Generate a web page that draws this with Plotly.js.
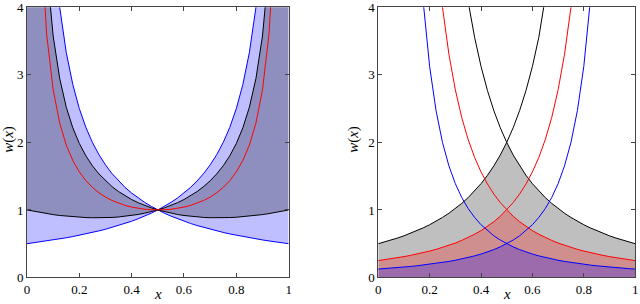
<!DOCTYPE html>
<html>
<head>
<meta charset="utf-8">
<script src="https://cdn.plot.ly/plotly-3.0.1.min.js"></script>
<style>html,body{margin:0;padding:0;background:#fff;}#chart{width:640px;height:304px;}</style>
</head>
<body>
<div id="chart"></div>
<script>
// common x grid (both panels)
const xGrid = [0,0.025,0.05,0.075,0.1,0.125,0.15,0.175,0.2,0.225,0.25,0.275,0.3,0.325,0.35,0.375,0.4,0.425,0.45,0.475,0.5,
  0.525,0.55,0.575,0.6,0.625,0.65,0.675,0.7,0.725,0.75,0.775,0.8,0.825,0.85,0.875,0.9,0.925,0.95,0.975,1];

// LEFT PANEL (off-chart values beyond 4 just mark the exit)
const leftBlueRising = [0.5,0.513,0.526,0.541,0.556,0.571,0.588,0.606,0.625,0.645,0.667,0.690,0.714,0.741,0.769,0.8,0.833,0.870,0.909,0.952,1.0,
  1.053,1.111,1.176,1.25,1.333,1.429,1.538,1.667,1.818,2.0,2.222,2.5,2.857,3.333,4.0,5.0,6.667,10,20,40];
const leftBlackRising = [1.0,0.980,0.962,0.946,0.931,0.918,0.908,0.899,0.892,0.887,0.884,0.883,0.885,0.889,0.896,0.905,0.918,0.933,0.952,0.974,1.0,
  1.031,1.066,1.107,1.154,1.209,1.272,1.345,1.431,1.533,1.654,1.801,1.984,2.216,2.522,2.946,3.575,4.612,6.7,13.2,30];
const leftRedU = [null,10.26,5.263,3.604,2.778,2.286,1.961,1.732,1.563,1.434,1.333,1.254,1.190,1.140,1.099,1.067,1.042,1.023,1.010,1.003,1.0,
  1.003,1.010,1.023,1.042,1.067,1.099,1.140,1.190,1.254,1.333,1.434,1.563,1.732,1.961,2.286,2.778,3.604,5.263,10.26,null];

// RIGHT PANEL: rising branches (falling branches are their mirror images)
const rightBlackRising = [0.5,0.526,0.554,0.584,0.617,0.653,0.692,0.735,0.781,0.832,0.889,0.951,1.020,1.097,1.183,1.28,1.389,1.512,1.653,1.814,2.0,
  2.216,2.469,2.768,3.125,3.556,4.082,4.734];
const rightRedRising = [0.25,0.263,0.277,0.292,0.309,0.327,0.346,0.367,0.391,0.416,0.444,0.476,0.510,0.549,0.592,0.64,0.694,0.756,0.826,0.907,1.0,
  1.108,1.235,1.384,1.563,1.778,2.041,2.367,2.778,3.306,4.0,4.938];
const rightBlueRising = [0.125,0.131,0.139,0.146,0.154,0.163,0.173,0.184,0.195,0.208,0.222,0.238,0.255,0.274,0.296,0.32,0.347,0.378,0.413,0.454,0.5,
  0.554,0.617,0.692,0.781,0.889,1.020,1.183,1.389,1.653,2.0,2.469,3.125,4.082,5.556];

const xTicks = [0,0.2,0.4,0.6,0.8,1];
const xTickText = ['0','0.2','0.4','0.6','0.8','1'];
const yTicks = [0,1,2,3,4];
const yTickText = ['0','1','2','3','4'];

function mirror(arr){ // value at x is arr at 1-x
  const n = xGrid.length;
  return xGrid.map((_,i)=> (n-1-i) < arr.length ? arr[n-1-i] : null);
}
function pad(arr){ return xGrid.map((_,i)=> i < arr.length ? arr[i] : null); }
function lower(a,b){ return a.map((v,i)=> Math.min(v,b[i])); }
function upper(a,b){ return a.map((v,i)=> Math.max(v,b[i])); }
function envelope(arr){ // min of rising and mirrored branch
  const n = xGrid.length;
  return xGrid.map((_,i)=> Math.min(arr[i], arr[n-1-i]));
}

const traces = [];
// left fills
const lbF = mirror(leftBlueRising);
const lkF = mirror(leftBlackRising);
traces.push({x:xGrid,y:lower(leftBlueRising,lbF),mode:'lines',line:{width:0},hoverinfo:'skip',xaxis:'x',yaxis:'y'});
traces.push({x:xGrid,y:upper(leftBlueRising,lbF),mode:'lines',line:{width:0},fill:'tonexty',fillcolor:'rgba(0,0,255,0.25)',hoverinfo:'skip',xaxis:'x',yaxis:'y'});
traces.push({x:xGrid,y:lower(leftBlackRising,lkF),mode:'lines',line:{width:0},hoverinfo:'skip',xaxis:'x',yaxis:'y'});
traces.push({x:xGrid,y:upper(leftBlackRising,lkF),mode:'lines',line:{width:0},fill:'tonexty',fillcolor:'rgba(0,0,0,0.25)',hoverinfo:'skip',xaxis:'x',yaxis:'y'});
// left lines
traces.push({x:xGrid,y:leftBlueRising,mode:'lines',line:{color:'#0000ff',width:1},xaxis:'x',yaxis:'y'});
traces.push({x:xGrid,y:lbF,mode:'lines',line:{color:'#0000ff',width:1},xaxis:'x',yaxis:'y'});
traces.push({x:xGrid,y:leftBlackRising,mode:'lines',line:{color:'#000000',width:1},xaxis:'x',yaxis:'y'});
traces.push({x:xGrid,y:lkF,mode:'lines',line:{color:'#000000',width:1},xaxis:'x',yaxis:'y'});
traces.push({x:xGrid,y:leftRedU,mode:'lines',line:{color:'#ff0000',width:1},xaxis:'x',yaxis:'y'});

// right fills
[[rightBlackRising,'rgba(0,0,0,0.25)'],[rightRedRising,'rgba(255,0,0,0.25)'],[rightBlueRising,'rgba(0,0,255,0.25)']].forEach(([arr,c])=>{
  traces.push({x:xGrid,y:envelope(pad(arr).map(v=>v===null?99:v)),mode:'lines',line:{width:0},fill:'tozeroy',fillcolor:c,hoverinfo:'skip',xaxis:'x2',yaxis:'y2'});
});
// right lines
[[rightBlackRising,'#000000'],[rightRedRising,'#ff0000'],[rightBlueRising,'#0000ff']].forEach(([arr,c])=>{
  traces.push({x:xGrid,y:pad(arr),mode:'lines',line:{color:c,width:1},xaxis:'x2',yaxis:'y2'});
  traces.push({x:xGrid,y:mirror(arr),mode:'lines',line:{color:c,width:1},xaxis:'x2',yaxis:'y2'});
});

const tickFont = {family:'Liberation Serif, Times New Roman, serif',size:13,color:'#000'};
function xa(domain, anchor){ return {domain:domain,anchor:anchor,range:[-0.000001,1.000001],tickvals:xTicks,ticktext:xTickText,ticks:'inside',ticklen:4,tickcolor:'#444',
  showline:true,linecolor:'#444',linewidth:1,mirror:'ticks',showgrid:false,zeroline:false,tickfont:tickFont,fixedrange:true,automargin:false,ticklabeloverflow:'allow'}; }
function ya(anchor){ return {domain:[0.0872,0.976],anchor:anchor,range:[-0.000004,4.000004],tickvals:yTicks,ticktext:yTickText,ticks:'inside',ticklen:4,tickcolor:'#444',
  showline:true,linecolor:'#444',linewidth:1,mirror:'ticks',showgrid:false,zeroline:false,tickfont:tickFont,fixedrange:true,automargin:false,ticklabeloverflow:'allow'}; }

const titleFont = {family:'Liberation Serif, Times New Roman, serif',size:15,color:'#000'};
const layout = {
  width:640,height:304,margin:{l:0,r:0,t:0,b:0},paper_bgcolor:'#fff',plot_bgcolor:'#fff',showlegend:false,
  xaxis:xa([0.0422,0.451],'y'), yaxis:ya('x'),
  xaxis2:xa([0.591,0.9925],'y2'), yaxis2:ya('x2'),
  annotations:[
    {text:'<i>x</i>',xref:'paper',yref:'paper',x:0.2466,y:0,xanchor:'center',yanchor:'bottom',showarrow:false,font:titleFont},
    {text:'<i>x</i>',xref:'paper',yref:'paper',x:0.792,y:0,xanchor:'center',yanchor:'bottom',showarrow:false,font:titleFont},
    {text:'<i>w</i>(<i>x</i>)',xref:'paper',yref:'paper',x:9/640,y:0.54,xanchor:'center',yanchor:'middle',textangle:-90,showarrow:false,font:titleFont},
    {text:'<i>w</i>(<i>x</i>)',xref:'paper',yref:'paper',x:354/640,y:0.54,xanchor:'center',yanchor:'middle',textangle:-90,showarrow:false,font:titleFont}
  ]
};
Plotly.newPlot('chart',traces,layout,{staticPlot:true,displayModeBar:false});
</script>
</body>
</html>
